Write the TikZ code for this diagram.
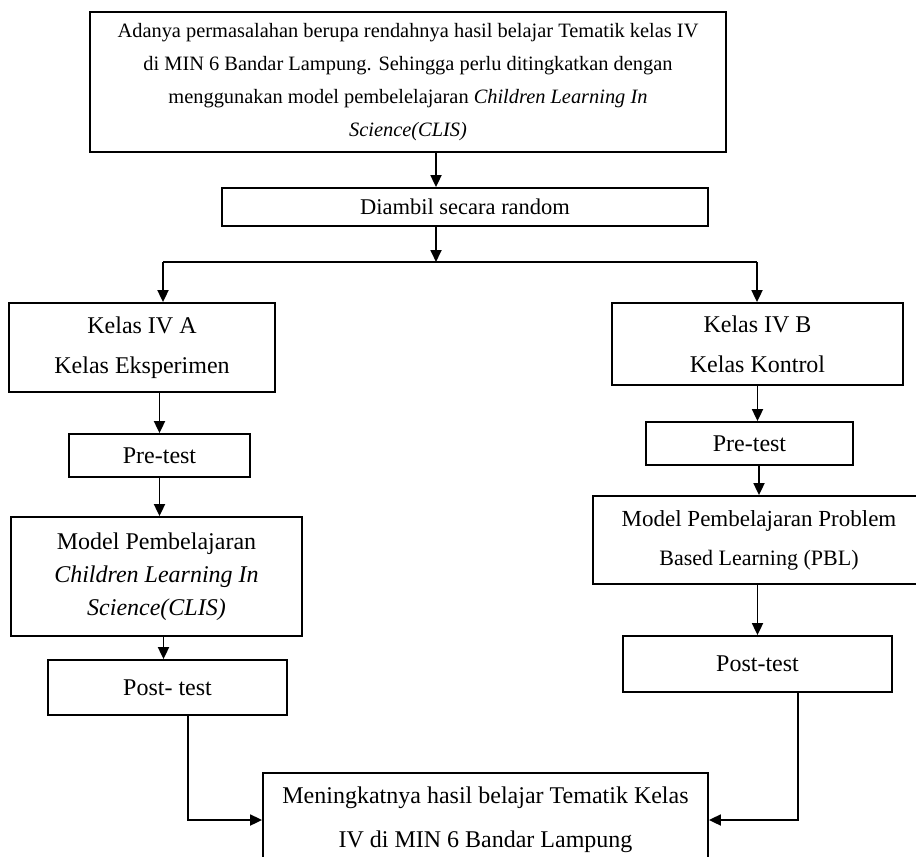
\documentclass[tikz,border=0pt]{standalone}
\usepackage{fontspec}
\setmainfont{Liberation Serif}
\usetikzlibrary{arrows.meta,positioning}

\tikzset{
  box/.style={draw=black, line width=1.8pt, align=center, inner sep=0pt,
    font=\fontsize{24}{40}\selectfont},
  arr/.style={-{Triangle[length=12pt,width=11pt]}, line width=1.8pt},
  line/.style={line width=1.8pt},
}

\begin{document}
\begin{tikzpicture}[x=1pt,y=-1pt]
		\useasboundingbox (0,0) rectangle (916,857);
		% boxes
		\node[box, minimum width=636pt, minimum height=140pt, font=\fontsize{20.4}{33}\selectfont] (top) at (408,82)
			{Adanya permasalahan berupa rendahnya hasil belajar Tematik kelas IV\\
			 di MIN 6 Bandar Lampung. Sehingga perlu ditingkatkan dengan\\
			 menggunakan model pembelelajaran \textit{Children Learning In}\\
			 \textit{Science(CLIS)}};
		\node[box, minimum width=486pt, minimum height=38pt, font=\fontsize{22.5}{30}\selectfont] (random) at (465,207) {Diambil secara random};
		\node[box, minimum width=266pt, minimum height=89pt] (kelasA) at (142,347.5) {Kelas IV A\\Kelas Eksperimen};
		\node[box, minimum width=291pt, minimum height=82pt] (kelasB) at (757.5,344) {Kelas IV B\\Kelas Kontrol};
		\node[box, minimum width=181pt, minimum height=43pt] (preA) at (159.5,455.5) {Pre-test};
		\node[box, minimum width=207pt, minimum height=43pt] (preB) at (749.5,443.5) {Pre-test};
		\node[box, minimum width=291pt, minimum height=119pt, font=\fontsize{24}{33}\selectfont] (modelA) at (156.5,576.5)
			{Model Pembelajaran\\\textit{Children Learning In}\\\textit{Science(CLIS)}};
		\node[box, minimum width=332pt, minimum height=88pt, font=\fontsize{23}{39}\selectfont] (modelB) at (759,540)
			{Model Pembelajaran Problem\\{\fontsize{22}{39}\selectfont Based Learning (PBL)}};
		\node[box, minimum width=239pt, minimum height=55pt] (postA) at (167.5,687.5) {Post- test};
		\node[box, minimum width=269pt, minimum height=56pt] (postB) at (757.5,664) {Post-test};
		\node[box, minimum width=445pt, minimum height=94pt, font=\fontsize{24}{44}\selectfont] (final) at (485.5,820)
			{Meningkatnya hasil belajar Tematik Kelas\\IV di MIN 6 Bandar Lampung};
		% split
		\coordinate (split) at (436,262);
		\coordinate (splitL) at (163,262);
		\coordinate (splitR) at (757,262);
		\draw[arr] (split |- top.south) -- (split |- random.north);
		\draw[arr] (split |- random.south) -- (split);
		\draw[line] (splitL) -- (splitR);
		\draw[arr] (splitL) -- (splitL |- kelasA.north);
		\draw[arr] (splitR) -- (splitR |- kelasB.north);
		% left column
		\draw[arr] (kelasA.south -| preA) -- (preA.north);
		\draw[arr] (preA.south) -- (preA.south |- modelA.north);
		\draw[arr] ([xshift=-4pt]postA.north |- modelA.south) -- ([xshift=-4pt]postA.north);
		\draw[arr] ([xshift=20.5pt]postA.south) |- (final.west);
		% right column
		\draw[arr] (kelasB.south) -- (kelasB.south |- preB.north);
		\draw[arr] (preB.south -| modelB) -- (modelB.north);
		\draw[arr] (modelB.south -| postB) -- (postB.north);
		\draw[arr] ([xshift=40.5pt]postB.south) |- (final.east);
	\end{tikzpicture}
\end{document}
